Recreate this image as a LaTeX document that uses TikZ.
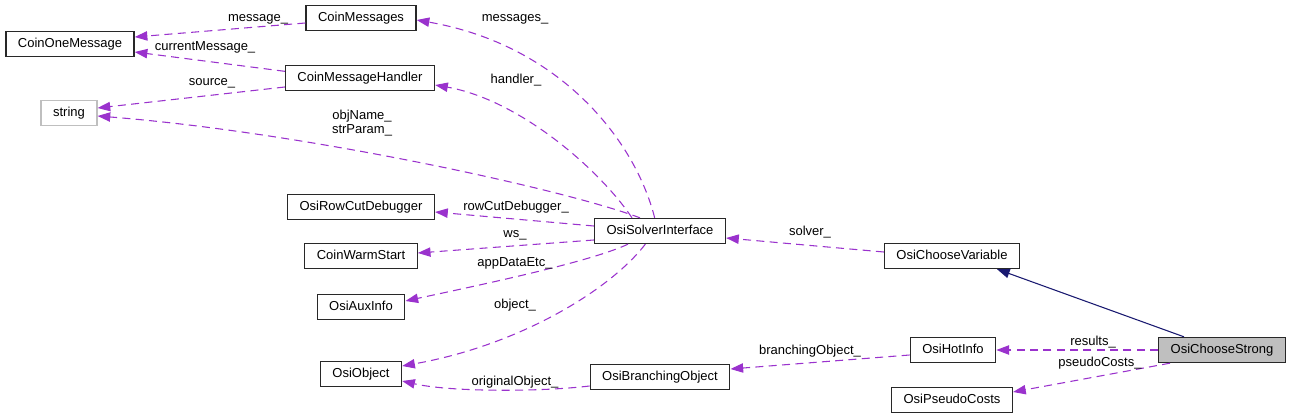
\documentclass[tikz,border=0pt]{standalone}
\usepackage{fontspec}
\setmainfont{Liberation Sans}
\usepackage{tikz}
\usetikzlibrary{arrows.meta,positioning}
\definecolor{edgepurple}{RGB}{154, 50, 205}
\definecolor{basenavy}{RGB}{25, 25, 112}
\definecolor{boxgray}{RGB}{191, 191, 191}
\definecolor{boxline}{RGB}{40, 40, 40}

\begin{document}
\begin{tikzpicture}[x=0.75pt,y=-0.75pt,
    font=\fontsize{9.75}{11}\selectfont,
    cls/.style={draw=boxline,line width=1pt,fill=white,minimum height=18.75pt,inner xsep=9pt,inner ysep=0pt,text depth=2.2pt,text height=7.2pt},
    ext/.style={cls,draw=boxgray},
    me/.style={cls,fill=boxgray},
    use/.style={edgepurple,line width=0.8pt,dash pattern=on 6pt off 4pt,-{Triangle[length=9.5pt,width=7pt]}},
    isa/.style={basenavy,line width=0.8pt,-{Triangle[length=9.5pt,width=7pt]}},
    lbl/.style={inner sep=0pt,align=center}]
    \useasboundingbox (0,0) rectangle (1291,420);
    % classes
    \node[cls] (com) at (70,44) {CoinOneMessage};
    \node[cls] (msgs) at (361,18) {CoinMessages};
    \node[cls] (mh) at (360,78) {CoinMessageHandler};
    \node[ext] (str) at (69,113) {string};
    \node[cls] (rcd) at (361,207) {OsiRowCutDebugger};
    \node[cls] (cws) at (361,256) {CoinWarmStart};
    \node[cls] (aux) at (361,307) {OsiAuxInfo};
    \node[cls] (obj) at (361,374) {OsiObject};
    \node[cls] (osi) at (660,231) {OsiSolverInterface};
    \node[cls] (bro) at (660,377) {OsiBranchingObject};
    \node[cls] (cv) at (952,256) {OsiChooseVariable};
    \node[cls] (hot) at (953,350) {OsiHotInfo};
    \node[cls] (pc) at (952,400) {OsiPseudoCosts};
    \node[me] (cs) at (1222,350) {OsiChooseStrong};
    % members
    \draw[use] ([yshift=-3.75pt]msgs.west) -- ([yshift=5.25pt]com.east);
    \draw[use] ([yshift=5pt]mh.west) -- ([yshift=-6pt]com.east);
    \draw[use] ([yshift=-6.75pt]mh.west) -- ([yshift=3.75pt]str.east);
    \draw[use] ([xshift=-15pt]osi.north) .. controls (560,188) and (300,132) .. ([yshift=-2.25pt]str.east);
    \draw[use] ([xshift=-4pt]osi.north) .. controls (635,140) and (560,45) .. ([yshift=-1.5pt]msgs.east);
    \draw[use] ([xshift=-21pt]osi.north) .. controls (600,170) and (520,100) .. ([yshift=-5.25pt]mh.east);
    \draw[use] ([yshift=3.75pt]osi.west) -- ([yshift=-3.75pt]rcd.east);
    \draw[use] ([yshift=-6.75pt]osi.west) -- ([yshift=2.25pt]cws.east);
    \draw[use] ([xshift=-24pt]osi.south) .. controls (590,262) and (480,285) .. ([yshift=4.5pt]aux.east);
    \draw[use] ([xshift=-11pt]osi.south) .. controls (610,290) and (520,345) .. ([yshift=6pt]obj.east);
    \draw[use] ([yshift=-6.75pt]bro.west) .. controls (540,392) and (450,392) .. ([yshift=-5.25pt]obj.east);
    \draw[use] ([yshift=-3.75pt]hot.west) -- ([yshift=6pt]bro.east);
    \draw[use] ([yshift=3pt]cv.west) -- ([yshift=-5.25pt]osi.east);
    \draw[use] (cs.west) -- (hot.east);
    \draw[use] ([xshift=-39pt]cs.south) -- ([yshift=6pt]pc.east);
    % inheritance
    \draw[isa] ([xshift=-28.5pt]cs.north) -- ([xshift=33.75pt]cv.south);
    % labels
    \node[lbl] at (258,19) {message\_};
    \node[lbl] at (205,47) {currentMessage\_};
    \node[lbl] at (212,83) {source\_};
    \node[lbl] at (362,123) {objName\_\\strParam\_};
    \node[lbl] at (515,19) {messages\_};
    \node[lbl] at (516,80) {handler\_};
    \node[lbl] at (516,207) {rowCutDebugger\_};
    \node[lbl] at (515,235) {ws\_};
    \node[lbl] at (515,263) {appDataEtc\_};
    \node[lbl] at (515,305) {object\_};
    \node[lbl] at (515,382) {originalObject\_};
    \node[lbl] at (810,351) {branchingObject\_};
    \node[lbl] at (810,232) {solver\_};
    \node[lbl] at (1093,342) {results\_};
    \node[lbl] at (1100,363) {pseudoCosts\_};
\end{tikzpicture}
\end{document}
